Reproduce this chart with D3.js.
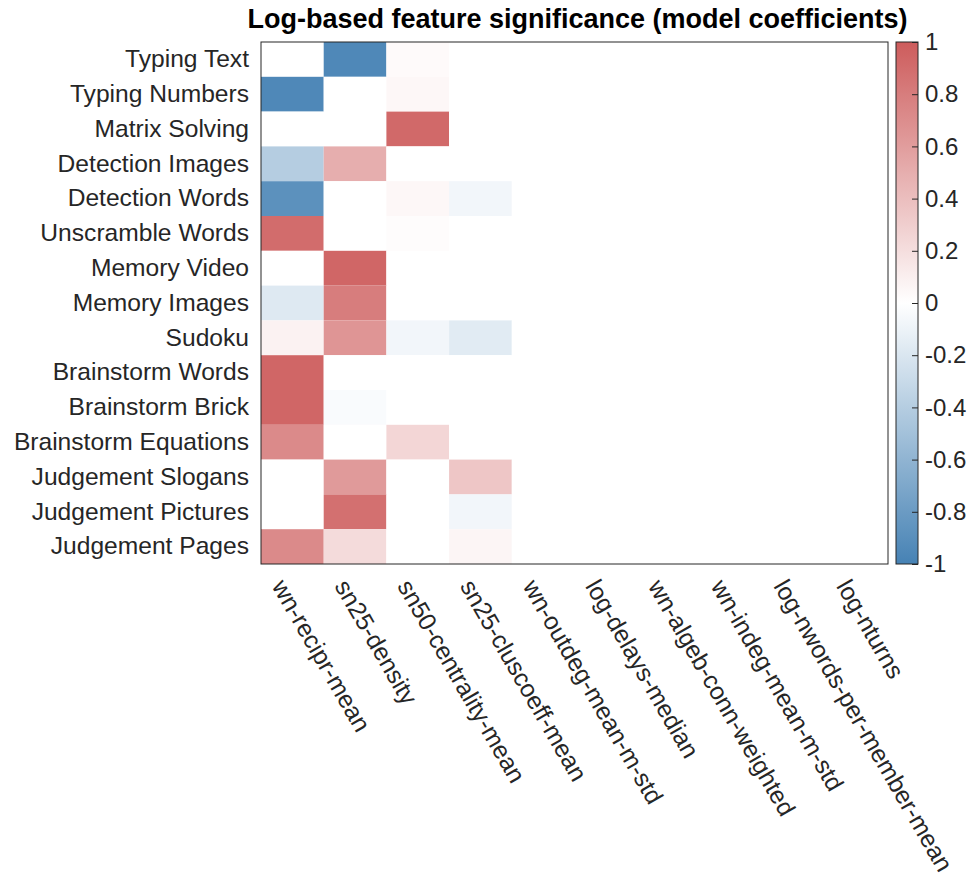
<!DOCTYPE html>
<html><head><meta charset="utf-8">
<script src="https://cdn.jsdelivr.net/npm/d3@7"></script>
<style>body{margin:0;background:#fff}svg{display:block}text{font-family:"Liberation Sans",Arial,Helvetica,sans-serif;fill:#262626}</style>
</head><body><svg id="c" width="979" height="875"></svg>
<script>
const title = "Log-based feature significance (model coefficients)";
const tasks = ["Typing Text","Typing Numbers","Matrix Solving","Detection Images","Detection Words","Unscramble Words","Memory Video","Memory Images","Sudoku","Brainstorm Words","Brainstorm Brick","Brainstorm Equations","Judgement Slogans","Judgement Pictures","Judgement Pages"];
const features = ["wn-recipr-mean","sn25-density","sn50-centrality-mean","sn25-cluscoeff-mean","wn-outdeg-mean-m-std","log-delays-median","wn-algeb-conn-weighted","wn-indeg-mean-m-std","log-nwords-per-member-mean","log-nturns"];
// one row per task, one value per feature
const values = [
  [0,-0.95,0.03,0,0,0,0,0,0,0],
  [-0.95,0,0.05,0,0,0,0,0,0,0],
  [0,0,0.92,0,0,0,0,0,0,0],
  [-0.4,0.5,0,0,0,0,0,0,0,0],
  [-0.88,0,0.05,-0.07,0,0,0,0,0,0],
  [0.9,0,0.02,0,0,0,0,0,0,0],
  [0,0.94,0,0,0,0,0,0,0,0],
  [-0.18,0.8,0,0,0,0,0,0,0,0],
  [0.08,0.65,-0.07,-0.16,0,0,0,0,0,0],
  [0.94,0,0,0,0,0,0,0,0,0],
  [0.94,-0.03,0,0,0,0,0,0,0,0],
  [0.72,0,0.25,0,0,0,0,0,0,0],
  [0,0.62,0,0.35,0,0,0,0,0,0],
  [0,0.88,0,-0.07,0,0,0,0,0,0],
  [0.72,0.22,0,0.06,0,0,0,0,0,0]
];
const cbTicks = [-1,-0.8,-0.6,-0.4,-0.2,0,0.2,0.4,0.6,0.8,1];

const svg = d3.select("#c");
const L=261, R=888, T=42, B=564;
const x = d3.scaleBand().domain(features).range([L,R]);
const y = d3.scaleBand().domain(tasks).range([T,B]);
const color = d3.scaleLinear().domain([-1,0,1]).range(["#4682b4","#ffffff","#cd5c5c"]).interpolate(d3.interpolateRgb);

const cells = [];
values.forEach((row,i)=>row.forEach((v,j)=>cells.push({t:tasks[i],f:features[j],v})));
svg.append("g").selectAll("rect").data(cells).join("rect")
  .attr("x",d=>x(d.f)).attr("y",d=>y(d.t))
  .attr("width",x.bandwidth()).attr("height",y.bandwidth())
  .attr("fill",d=>color(d.v));

// frame
svg.append("rect").attr("x",L).attr("y",T).attr("width",R-L).attr("height",B-T)
  .attr("fill","none").attr("stroke","#262626").attr("stroke-width",1);

// y labels
const yAxis = d3.axisLeft(y).tickSize(0).tickPadding(12);
const gy = svg.append("g").attr("transform",`translate(${L},0)`).call(yAxis);
gy.select(".domain").remove();
gy.selectAll("text").attr("font-size",24.6).style("font-family","'Liberation Sans',Arial,sans-serif").attr("fill","#262626");

// x labels rotated
const gx = svg.append("g");
gx.selectAll("text").data(features).join("text")
  .attr("transform",d=>`translate(${x(d)+x.bandwidth()/2-21},${B+22}) rotate(60)`)
  .attr("text-anchor","start").attr("font-size",24.6).text(d=>d);

// title
svg.append("text").attr("x",(L+R)/2+3).attr("y",28).attr("text-anchor","middle")
  .attr("font-size",27).attr("font-weight","bold").style("fill","#000").text(title);

// colorbar
const CL=896, CR=918;
const cy = d3.scaleLinear().domain([-1,1]).range([B,T]);
const defs = svg.append("defs");
const grad = defs.append("linearGradient").attr("id","cb").attr("x1",0).attr("y1",1).attr("x2",0).attr("y2",0);
d3.range(0,1.0001,0.05).forEach(t=>{
  grad.append("stop").attr("offset",t).attr("stop-color",color(-1+2*t));
});
svg.append("rect").attr("x",CL).attr("y",T).attr("width",CR-CL).attr("height",B-T)
  .attr("fill","url(#cb)").attr("stroke","#262626").attr("stroke-width",1);
const fmt = d3.format("~g");
const cAxis = d3.axisRight(cy).tickValues(cbTicks).tickSize(0).tickPadding(7).tickFormat(d=>fmt(d).replace("\u2212","-"));
const gc = svg.append("g").attr("transform",`translate(${CR},0)`).call(cAxis);
gc.select(".domain").remove();
gc.selectAll("text").attr("font-size",24).style("font-family","'Liberation Sans',Arial,sans-serif").attr("fill","#262626");
gc.selectAll(".tick").append("line").attr("x1",-6).attr("x2",0).attr("stroke","#262626");
</script></body></html>
